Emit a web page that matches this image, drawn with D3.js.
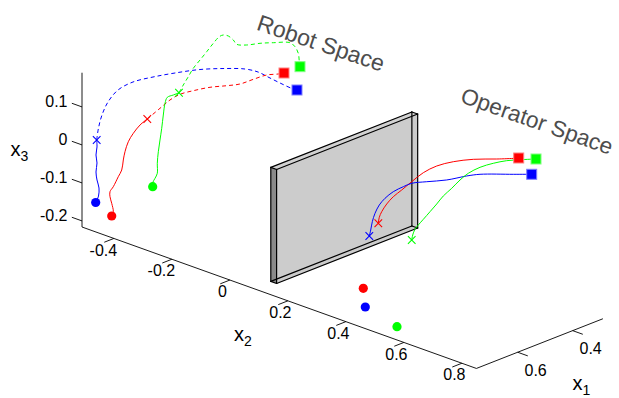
<!DOCTYPE html>
<html><head><meta charset="utf-8">
<script src="https://cdn.jsdelivr.net/npm/d3@7"></script>
<style>html,body{margin:0;padding:0;background:#fff;} svg{display:block;font-family:"Liberation Sans",Arial,sans-serif;}</style>
</head><body><svg id="c" width="619" height="398"></svg>
<script>
// ---- axes limits & ticks ----
const X1_LIM = [0.29, 0.75];
const X2_LIM = [-0.51, 0.85];
const X3_LIM = [-0.216, 0.19];
const X1_TICKS = [0.4, 0.6];
const X2_TICKS = [-0.4, -0.2, 0, 0.2, 0.4, 0.6, 0.8];
const X3_TICKS = [-0.2, -0.1, 0, 0.1];

// ---- robot space trajectories [x1, x2, x3] ----
const robotBlueSolid = [[0.72,-0.4912,-0.1549],[0.72,-0.4815,-0.1352],[0.72,-0.4798,-0.1137],[0.72,-0.4867,-0.0945],[0.72,-0.4902,-0.0744],[0.72,-0.4867,-0.0497],[0.72,-0.4902,-0.0296],[0.72,-0.4867,-0.0076],[0.72,-0.4878,0.0105]];
const robotBlueDashed = [[0.72,-0.4878,0.0105],[0.72,-0.4815,0.0438],[0.72,-0.4695,0.0813],[0.72,-0.4488,0.1212],[0.72,-0.4143,0.1622],[0.72,-0.3626,0.1974],[0.72,-0.2936,0.2294],[0.72,-0.2178,0.2607],[0.72,-0.1315,0.2935],[0.72,-0.0453,0.3197],[0.72,0.0236,0.3373],[0.72,0.0685,0.3417],[0.72,0.1029,0.3380],[0.72,0.1443,0.3335],[0.72,0.1857,0.3303],[0.72,0.2029,0.3311]];
const robotRedSolid = [[0.72,-0.4360,-0.1753],[0.72,-0.4305,-0.1625],[0.72,-0.4360,-0.1419],[0.72,-0.4419,-0.1262],[0.72,-0.4419,-0.1130],[0.72,-0.4305,-0.0967],[0.72,-0.4133,-0.0657],[0.72,-0.4015,-0.0449],[0.72,-0.3960,-0.0170],[0.72,-0.3902,0.0064],[0.72,-0.3788,0.0358],[0.72,-0.3615,0.0627],[0.72,-0.3384,0.0908],[0.72,-0.3133,0.1135]];
const robotRedDashed = [[0.72,-0.3133,0.1135],[0.72,-0.2695,0.1537],[0.72,-0.2350,0.1850],[0.72,-0.2005,0.2094],[0.72,-0.1547,0.2314],[0.72,-0.0971,0.2561],[0.72,-0.0395,0.2761],[0.72,0.0064,0.2931],[0.72,0.0523,0.3180],[0.72,0.0985,0.3420],[0.72,0.1385,0.3556],[0.72,0.1581,0.3636]];
const robotGreenSolid = [[0.72,-0.2947,-0.0596],[0.72,-0.2947,-0.0490],[0.72,-0.2867,-0.0353],[0.72,-0.2788,-0.0200],[0.72,-0.2788,0.0064],[0.72,-0.2753,0.0378],[0.72,-0.2695,0.0702],[0.72,-0.2636,0.1026],[0.72,-0.2581,0.1391],[0.72,-0.2522,0.1715],[0.72,-0.2443,0.1895],[0.72,-0.2236,0.2012],[0.72,-0.2040,0.2126]];
const robotGreenDashed = [[0.72,-0.2040,0.2126],[0.72,-0.1891,0.2370],[0.72,-0.1719,0.2635],[0.72,-0.1547,0.2903],[0.72,-0.1315,0.3185],[0.72,-0.1084,0.3467],[0.72,-0.0857,0.3750],[0.72,-0.0650,0.3981],[0.72,-0.0512,0.4063],[0.72,-0.0340,0.4084],[0.72,-0.0167,0.4026],[0.72,-0.0050,0.3945],[0.72,0.0295,0.4021],[0.72,0.0754,0.4191],[0.72,0.1212,0.4332],[0.72,0.1788,0.4490],[0.72,0.1960,0.4432],[0.72,0.2074,0.4289],[0.72,0.2109,0.4078],[0.72,0.2133,0.3953]];

// ---- operator space trajectories [x1, x2, x3] (contact -> goal) ----
const opRed = [[0.45,0.2273,-0.0897],[0.45,0.2307,-0.0730],[0.45,0.2390,-0.0560],[0.45,0.2563,-0.0310],[0.45,0.2790,-0.0056],[0.45,0.3080,0.0200],[0.45,0.3425,0.0513],[0.45,0.3825,0.0859],[0.45,0.4287,0.1162],[0.45,0.4859,0.1431],[0.45,0.5549,0.1683],[0.45,0.6356,0.1912],[0.45,0.6987,0.2103],[0.45,0.7114,0.2146]];
const opBlue = [[0.45,0.1962,-0.1317],[0.45,0.2011,-0.1146],[0.45,0.2066,-0.0912],[0.45,0.2159,-0.0666],[0.45,0.2307,-0.0406],[0.45,0.2504,-0.0176],[0.45,0.2790,0.0076],[0.45,0.3135,0.0302],[0.45,0.3425,0.0471],[0.45,0.3942,0.0654],[0.45,0.4631,0.0888],[0.45,0.5321,0.1182],[0.45,0.5780,0.1352],[0.45,0.6928,0.1666],[0.45,0.7562,0.1840]];
const opGreen = [[0.45,0.3425,-0.1022],[0.45,0.3459,-0.0881],[0.45,0.3538,-0.0709],[0.45,0.3652,-0.0565],[0.45,0.3825,-0.0368],[0.45,0.4056,-0.0104],[0.45,0.4287,0.0162],[0.45,0.4514,0.0435],[0.45,0.4804,0.0716],[0.45,0.5090,0.1013],[0.45,0.5376,0.1268],[0.45,0.5780,0.1536],[0.45,0.6238,0.1767],[0.45,0.6700,0.1962],[0.45,0.7159,0.2113],[0.45,0.7711,0.2283]];
const opStarts = [[0.74,0.4505,-0.1173],[0.74,0.4574,-0.1646],[0.74,0.5667,-0.1865]]; // red, blue, green

// ---- wall (box) extents ----
const WALL_X1 = [0.257, 0.77];
const WALL_X2 = [0.16, 0.18];
const WALL_X3 = [-0.17, 0.13];

const LABELS = [{text:"Robot Space", x:321, y:43, rot:18.5, fs:23},{text:"Operator Space", x:537, y:121, rot:19.4, fs:22.6}];

// ---- projection built from d3 scales ----
const ORIGIN = [82, 227];
const V1 = [126.5, -49.68], V2 = [394.4, 141.44], V3 = [0, -154.28];
const u1 = d3.scaleLinear().domain([X1_LIM[1], X1_LIM[0]]).range([0, 1]);
const u2 = d3.scaleLinear().domain(X2_LIM).range([0, 1]);
const u3 = d3.scaleLinear().domain(X3_LIM).range([0, 1]);
function P(p){const a=u1(p[0]),b=u2(p[1]),c=u3(p[2]);
  return [ORIGIN[0]+a*V1[0]+b*V2[0]+c*V3[0], ORIGIN[1]+a*V1[1]+b*V2[1]+c*V3[1]];}

const svg = d3.select("#c");
const line2 = d3.line();
const curve = d3.line().curve(d3.curveCatmullRom.alpha(0.5));
const FS = 16;

// ---- axes ----
const gA = svg.append("g").attr("stroke","#000").attr("stroke-width",0.9).attr("fill","none");
const [a1,b1]=X1_LIM,[a2,b2]=X2_LIM,[a3,b3]=X3_LIM;
gA.append("path").attr("d",line2([P([b1,a2,a3]),P([b1,a2,b3])]));
gA.append("path").attr("d",line2([P([b1,a2,a3]),P([b1,b2,a3])]));
gA.append("path").attr("d",line2([P([b1,b2,a3]),P([a1,b2,a3])]));
const TL=0.035;
X3_TICKS.forEach(t=>gA.append("path").attr("d",line2([P([b1,a2,t]),P([b1,a2-TL,t])])));
X2_TICKS.forEach(t=>gA.append("path").attr("d",line2([P([b1,t,a3]),P([b1+TL,t,a3])])));
X1_TICKS.forEach(t=>gA.append("path").attr("d",line2([P([t,b2,a3]),P([t,b2+TL,a3])])));

const gT = svg.append("g").attr("font-size",FS).attr("fill","#000");
const fmt = d=>String(d);
X3_TICKS.forEach(t=>{const q=P([b1,a2,t]);
  gT.append("text").attr("x",q[0]-14.5).attr("y",q[1]-6).attr("dy","0.35em").attr("text-anchor","end").text(fmt(t));});
X2_TICKS.forEach(t=>{const q=P([b1,t,a3]);
  gT.append("text").attr("x",q[0]-7.5-(t<0?3:0)).attr("y",q[1]+11.5).attr("dy","0.35em").attr("text-anchor","middle").text(fmt(t));});
X1_TICKS.forEach(t=>{const q=P([t,b2,a3]);
  gT.append("text").attr("x",q[0]+18).attr("y",q[1]+18).attr("dy","0.35em").attr("text-anchor","middle").text(fmt(t));});

function axLabel(x,y,sub){const t=svg.append("text").attr("x",x).attr("y",y).attr("font-size",20).text("x");
  t.append("tspan").attr("dy",5).attr("font-size",14).text(sub);}
axLabel(10.5,156,"3"); axLabel(234,341,"2"); axLabel(572.5,390,"1");

// ---- wall ----
const [w1a,w1b]=WALL_X1,[w2a,w2b]=WALL_X2,[w3a,w3b]=WALL_X3;
const C = (i,j,k)=>P([[w1a,w1b][i],[w2a,w2b][j],[w3a,w3b][k]]);
const gW = svg.append("g");
const face = (pts,fill)=>gW.append("path").attr("d",line2(pts)+"Z").attr("fill",fill).attr("stroke","none");
face([C(0,0,0),C(1,0,0),C(1,0,1),C(0,0,1)],"#cccccc");          // back
face([C(0,0,0),C(1,0,0),C(1,1,0),C(0,1,0)],"#cccccc");          // bottom
face([C(0,0,0),C(0,1,0),C(0,1,1),C(0,0,1)],"#cccccc");          // far end
face([C(0,1,0),C(1,1,0),C(1,1,1),C(0,1,1)],"#cccccc");          // front
face([C(0,0,1),C(1,0,1),C(1,1,1),C(0,1,1)],"#d2d2d2");          // top
face([C(1,0,0),C(1,1,0),C(1,1,1),C(1,0,1)],"#8a8a8a");          // near end (left)
const edges=[];
[0,1].forEach(j=>[0,1].forEach(k=>edges.push([C(0,j,k),C(1,j,k)])));
[0,1].forEach(i=>[0,1].forEach(k=>edges.push([C(i,0,k),C(i,1,k)])));
[0,1].forEach(i=>[0,1].forEach(j=>edges.push([C(i,j,0),C(i,j,1)])));
edges.forEach(e=>gW.append("path").attr("d",line2(e)).attr("stroke","#000").attr("stroke-width",1.2).attr("fill","none").attr("stroke-linecap","round"));

// ---- trajectories ----
const gL = svg.append("g").attr("fill","none").attr("stroke-width",1);
const path=(data,col,dash)=>{const p=gL.append("path").attr("d",curve(data.map(P))).attr("stroke",col);if(dash)p.attr("stroke-dasharray","4,3");};
path(robotBlueSolid,"#0000ff");path(robotBlueDashed,"#0000ff",true);
path(robotRedSolid,"#ff0000");path(robotRedDashed,"#ff0000",true);
path(robotGreenSolid,"#00ff00");path(robotGreenDashed,"#00ff00",true);
path(opRed,"#ff0000");path(opBlue,"#0000ff");path(opGreen,"#00ff00");

// ---- markers ----
const gM = svg.append("g");
const dot=(p,c)=>{const q=P(p);gM.append("circle").attr("cx",q[0]).attr("cy",q[1]).attr("r",4.6).attr("fill",c);};
const sq=(p,c,lc)=>{const q=P(p);gM.append("rect").attr("x",q[0]-5).attr("y",q[1]-5).attr("width",10).attr("height",10).attr("fill",c).attr("stroke",lc).attr("stroke-width",1);};
const xm=(p,c)=>{const q=P(p),s=3.8;gM.append("path").attr("d",`M${q[0]-s},${q[1]-s}L${q[0]+s},${q[1]+s}M${q[0]-s},${q[1]+s}L${q[0]+s},${q[1]-s}`).attr("stroke",c).attr("stroke-width",1.1);};
const series=[[robotBlueSolid,robotBlueDashed,"#0000ff","#7f7fff"],[robotRedSolid,robotRedDashed,"#ff0000","#ff8080"],[robotGreenSolid,robotGreenDashed,"#00ff00","#80ff80"]];
series.forEach(([s,d,c,lc])=>{dot(s[0],c);xm(s[s.length-1],c);sq(d[d.length-1],c,lc);});
[[opRed,"#ff0000","#ff8080"],[opBlue,"#0000ff","#7f7fff"],[opGreen,"#00ff00","#80ff80"]].forEach(([d,c,lc])=>{xm(d[0],c);sq(d[d.length-1],c,lc);});
dot(opStarts[0],"#ff0000");dot(opStarts[1],"#0000ff");dot(opStarts[2],"#00ff00");

// ---- annotations ----
LABELS.forEach(l=>svg.append("text").attr("transform",`translate(${l.x},${l.y}) rotate(${l.rot})`).attr("text-anchor","middle").attr("dy","0.35em").attr("font-size",l.fs).attr("fill","#4d4d4d").text(l.text));
</script></body></html>
